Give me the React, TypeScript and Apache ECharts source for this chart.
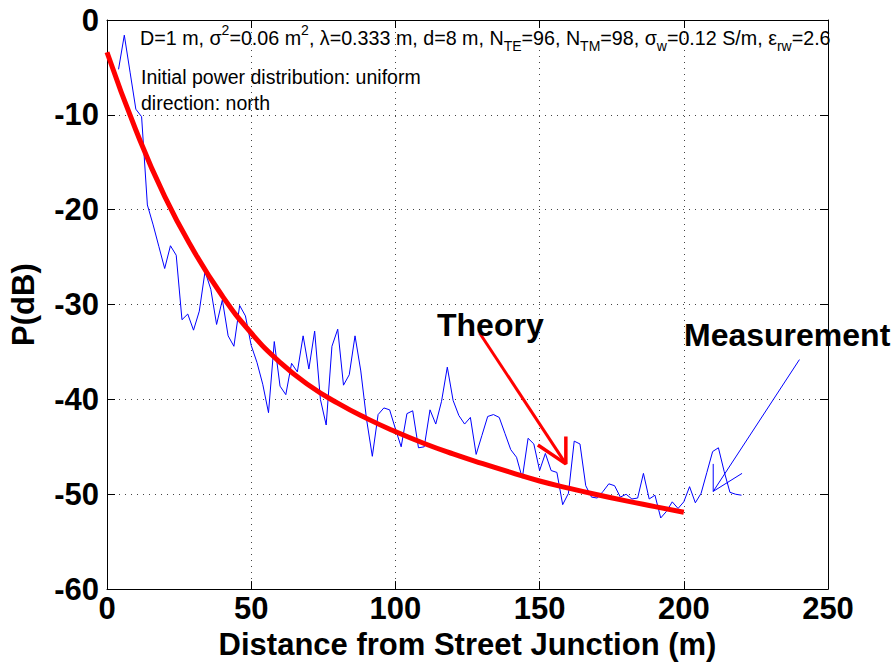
import React, { useEffect, useRef } from "react";
import * as echarts from "echarts";

// Measured received power (m, dB)
const measured: [number, number][] = [
  [4, -5.2], [6, -1.6], [8, -5.5], [10, -9.4], [12, -10.2], [14, -19.5], [16, -21.6], [18, -23.9],
  [20, -26.2], [22, -23.8], [24, -24.8], [26, -31.6], [28, -31.0], [30, -32.7], [32, -30.7], [34, -26.5],
  [36, -28.4], [38, -32.1], [40, -29.5], [42, -33.3], [44, -34.4], [46, -30.1], [48, -31.2], [50, -34.3],
  [52, -36.1], [54, -38.4], [56, -41.4], [58, -33.9], [60, -38.6], [62, -39.5], [64, -36.2], [66, -37.1],
  [68, -33.3], [70, -36.8], [72, -32.8], [74, -40.0], [76, -42.7], [78, -34.4], [80, -32.6], [82, -38.5],
  [84, -37.4], [86, -33.3], [88, -37.0], [90, -42.1], [92, -46.0], [94, -41.6], [96, -40.9], [98, -41.1],
  [100, -43.1], [102, -45.0], [104, -41.5], [106, -41.2], [108, -45.1], [110, -45.0], [112, -41.1], [114, -42.6],
  [116, -40.2], [118, -36.6], [120, -40.1], [122, -41.7], [124, -42.6], [126, -41.9], [128, -45.8], [130, -43.8],
  [132, -41.8], [134, -41.6], [136, -41.9], [138, -43.6], [140, -45.3], [142, -46.1], [144, -48.3], [146, -44.1],
  [148, -44.7], [150, -47.5], [152, -45.7], [154, -47.5], [156, -47.7], [158, -51.1], [160, -49.9], [162, -44.4],
  [164, -44.7], [166, -49.1], [168, -50.3], [170, -50.4], [172, -49.7], [174, -48.9], [176, -49.1], [178, -50.3],
  [180, -50.0], [182, -50.5], [184, -50.4], [186, -47.8], [188, -50.5], [190, -50.1], [192, -52.5], [194, -51.8],
  [196, -50.8], [198, -51.5], [200, -50.8], [202, -49.2], [204, -50.9], [206, -49.9], [208, -47.7], [210, -45.5],
  [212, -45.1], [214, -47.6], [216, -49.8], [218, -50.0], [220, -50.1],
];

// Theoretical curve
const theoryX = [0, 10, 20, 30, 40, 50, 60, 70, 80, 90, 100, 110, 120, 130, 140, 150, 160, 170, 180, 190, 200];
const theoryY = [-3.4, -11.6, -18.6, -24.3, -29.1, -33.0, -36.1, -38.5, -40.4, -42.0, -43.4, -44.65, -45.75, -46.75, -47.7, -48.6, -49.35, -50.05, -50.7, -51.3, -51.9];

// Annotation arrows (data coordinates)
const theoryArrowShaft: [number, number][] = [[129.2, -33.0], [159.1, -46.8]];
const theoryArrowHead: [number, number][] = [[149.4, -44.8], [159.1, -46.8], [159.1, -43.9]];
const measArrowShaft: [number, number][] = [[240.1, -35.8], [210.2, -49.7]];
const measArrowHead: [number, number][] = [[220.2, -47.8], [210.2, -49.7], [210.2, -46.8]];

const xTicks = { min: 0, max: 250, interval: 50 };
const yTicks = { min: -60, max: 0, interval: 10 };

const FONT = '"Liberation Sans", Arial, Helvetica, sans-serif';

export default function App() {
  const ref = useRef<HTMLDivElement>(null);
  useEffect(() => {
    if (!ref.current) return;
    const chart = echarts.init(ref.current, undefined, { renderer: "svg" });
    const boldText = { fontSize: 31, fontWeight: "bold" as const, color: "#000", fontFamily: FONT };
    const split = { show: true, lineStyle: { type: [1, 5] as any, color: "#444", width: 1 } };
    const line = { show: true, onZero: false, lineStyle: { color: "#000", width: 1 } };
    const tick = { show: true, inside: true, length: 8, lineStyle: { color: "#000", width: 1 } };
    const theoryData = theoryX.map((x, i) => [x, theoryY[i]]);
    chart.setOption({
      animation: false,
      backgroundColor: "#fff",
      grid: { left: 104, top: 20, right: 66, bottom: 72, containLabel: false },
      xAxis: [
        {
          type: "value", position: "bottom", ...xTicks,
          name: "Distance from Street Junction (m)", nameLocation: "middle", nameGap: 29,
          nameTextStyle: boldText,
          axisLine: line, axisTick: tick,
          axisLabel: { ...boldText, margin: 4 },
          splitLine: split,
        },
        {
          type: "value", position: "top", ...xTicks,
          axisLine: line, axisTick: tick, axisLabel: { show: false }, splitLine: { show: false },
        },
      ],
      yAxis: [
        {
          type: "value", position: "left", ...yTicks,
          name: "P(dB)", nameLocation: "middle", nameGap: 68,
          nameTextStyle: boldText,
          axisLine: line, axisTick: tick,
          axisLabel: { ...boldText, margin: 8 },
          splitLine: split,
        },
        {
          type: "value", position: "right", ...yTicks,
          axisLine: line, axisTick: tick, axisLabel: { show: false }, splitLine: { show: false },
        },
      ],
      series: [
        {
          type: "line", name: "Measurement", data: measured, showSymbol: false, symbol: "none",
          lineStyle: { color: "#0000ff", width: 1 }, z: 2,
        },
        {
          type: "line", name: "Theory", data: theoryData, showSymbol: false, symbol: "none",
          smooth: 0.5,
          lineStyle: { color: "#ff0000", width: 5 }, z: 3,
        },
        {
          type: "line", data: theoryArrowShaft, showSymbol: false, symbol: "none",
          lineStyle: { color: "#ff0000", width: 3 }, z: 4,
        },
        {
          type: "line", data: theoryArrowHead, showSymbol: false, symbol: "none",
          lineStyle: { color: "#ff0000", width: 3.5 }, z: 4,
        },
        {
          type: "line", data: measArrowShaft, showSymbol: false, symbol: "none",
          lineStyle: { color: "#0000ff", width: 1 }, z: 4,
        },
        {
          type: "line", data: measArrowHead, showSymbol: false, symbol: "none",
          lineStyle: { color: "#0000ff", width: 1 }, z: 4,
        },
      ],
      graphic: [
        {
          type: "text", left: 140, top: 23, z: 10,
          style: {
            text:
              "{a|D=1 m, σ}{p|2}{a|=0.06 m}{p|2}{a|, λ=0.333 m, d=8 m, N}{b|TE}{a|=96, N}{b|TM}{a|=98, σ}{b|w}{a|=0.12 S/m, ε}{b|rw}{a|=2.6}",
            fill: "#000",
            font: `19.7px ${FONT}`,
            rich: {
              a: { fontSize: 19.7, fontFamily: FONT, lineHeight: 30, verticalAlign: "middle", fill: "#000" },
              p: { fontSize: 14, fontFamily: FONT, lineHeight: 14, verticalAlign: "top", fill: "#000" },
              b: { fontSize: 14, fontFamily: FONT, lineHeight: 14, verticalAlign: "bottom", fill: "#000" },
            },
          },
        },
        {
          type: "text", left: 141, top: 67, z: 10,
          style: { text: "Initial power distribution: uniform", fill: "#000", font: `19.5px ${FONT}` },
        },
        {
          type: "text", left: 141, top: 93, z: 10,
          style: { text: "direction: north", fill: "#000", font: `19.5px ${FONT}` },
        },
        {
          type: "text", left: 437, top: 309, z: 10,
          style: { text: "Theory", fill: "#000", font: `bold 32px ${FONT}` },
        },
        {
          type: "text", left: 684, top: 319, z: 10,
          style: { text: "Measurement", fill: "#000", font: `bold 32px ${FONT}` },
        },
      ],
    });
    return () => chart.dispose();
  }, []);
  return (
    <div
      ref={ref}
      style={{ position: "absolute", left: 0, top: 0, width: 894, height: 665, background: "#fff" }}
    />
  );
}
